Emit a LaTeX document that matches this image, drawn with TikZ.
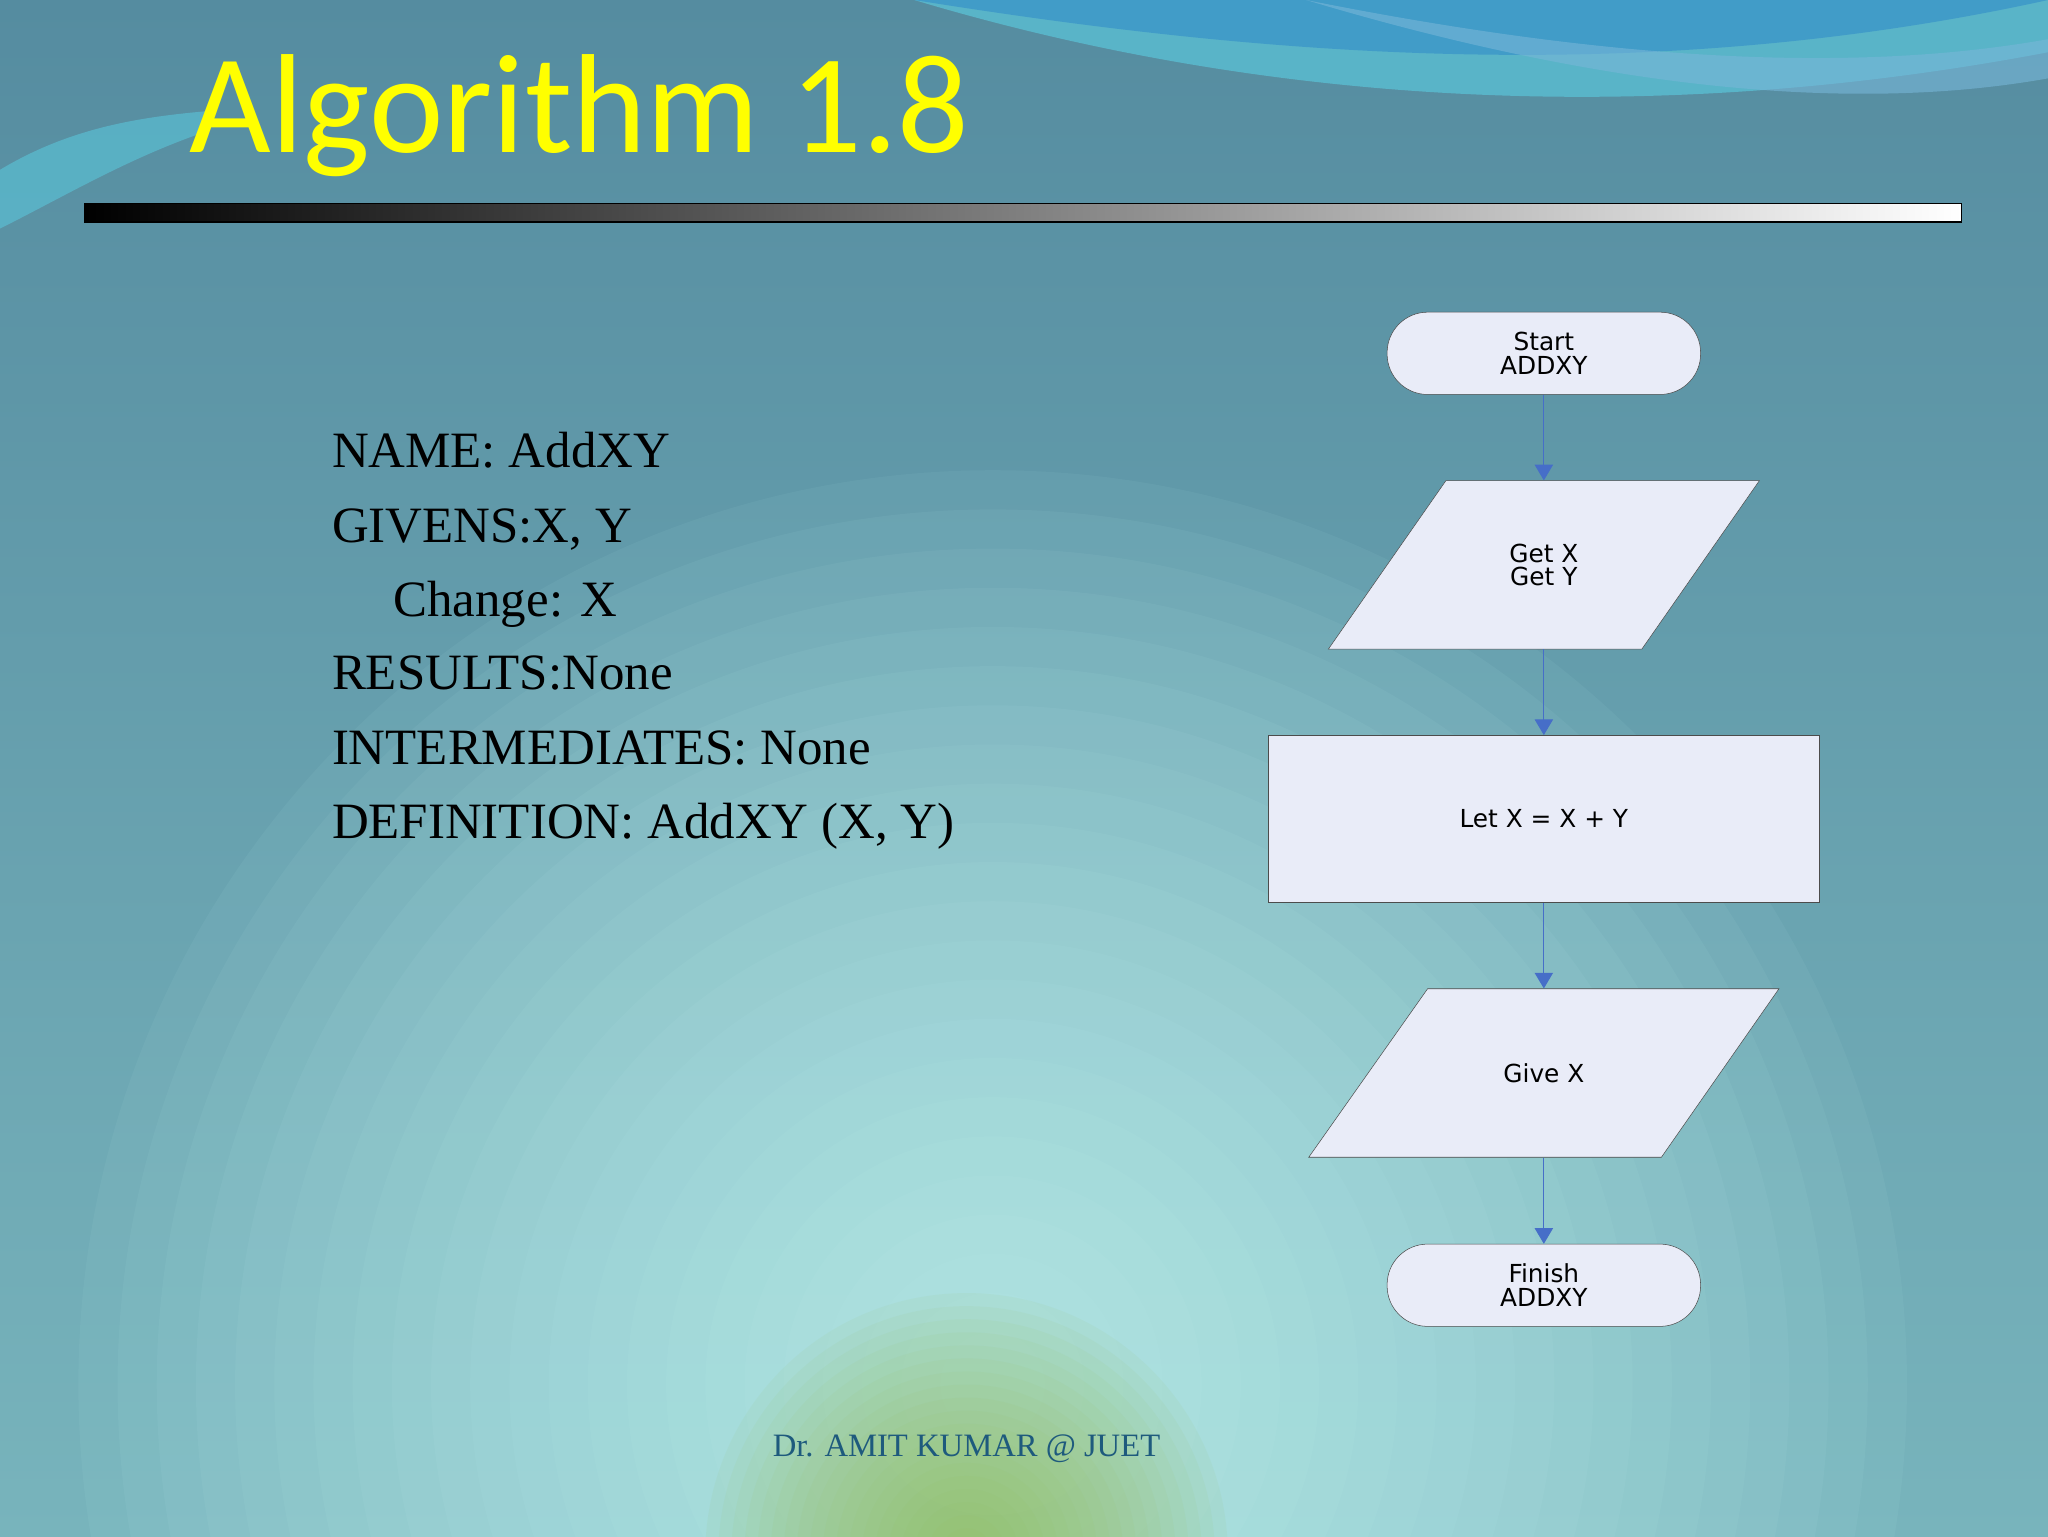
\documentclass[tikz,border=0pt]{standalone}
\usepackage{fontspec}
\setmainfont{Liberation Serif}
\newfontfamily\titlefont{Carlito}
\newfontfamily\arialfont{DejaVu Sans}
\usetikzlibrary{arrows.meta,shapes.geometric}
\definecolor{bgtop}{RGB}{85,140,160}
\definecolor{bgmid}{RGB}{120,180,188}
\definecolor{glow}{RGB}{205,255,250}
\definecolor{boxfill}{RGB}{233,236,248}
\definecolor{arr}{RGB}{70,110,200}
\definecolor{foot}{RGB}{30,90,125}
\definecolor{ttl}{RGB}{255,255,0}
\definecolor{wave1}{RGB}{60,150,200}
\definecolor{wave2}{RGB}{90,190,210}
\definecolor{grn}{RGB}{150,190,90}
\tikzset{
  term/.style={draw=black!70, fill=boxfill, rounded corners=31pt, minimum width=240pt, minimum height=63pt, inner sep=0pt, align=center, font=\arialfont\fontsize{19}{22}\selectfont},
  procbox/.style={draw=black!70, fill=boxfill, minimum width=422pt, minimum height=128pt, inner sep=0pt, align=center, font=\arialfont\fontsize{19}{22}\selectfont},
  ioanchor/.style={minimum width=150pt, minimum height=129pt, inner sep=0pt, align=center, font=\arialfont\fontsize{19}{22}\selectfont},
  io/.style={draw=black!70, fill=boxfill},
  flow/.style={draw=arr, line width=0.8pt, -{Triangle[width=14pt,length=12pt]}},
  body/.style={anchor=base west, inner sep=0pt, font=\fontsize{39}{44}\selectfont},
}
\begin{document}
\begin{tikzpicture}[x=1pt,y=-1pt]
\useasboundingbox (0,0) rectangle (1568,1176);
% background
\begin{scope}
\clip (0,0) rectangle (1568,1176);
\shade[top color=bgtop, bottom color=bgmid] (0,0) rectangle (1568,1176);
\foreach \r in {700,670,...,40} {
  \fill[glow, opacity=0.055] (760,1060) circle (\r);
}
\foreach \r in {200,190,...,20} {
  \fill[grn, opacity=0.07] (740,1190) circle (\r);
}
% top waves
\fill[wave2, opacity=0.8] (700,0) .. controls (900,60) and (1200,110) .. (1568,40) -- (1568,0) -- cycle;
\fill[wave1, opacity=0.8] (700,0) .. controls (950,40) and (1250,70) .. (1568,0) -- cycle;
\fill[wave1!70!white, opacity=0.6] (1000,0) .. controls (1200,60) and (1400,90) .. (1568,60) -- (1568,30) .. controls (1400,60) and (1200,40) .. (1000,0) -- cycle;
\fill[wave2, opacity=0.7] (0,130) .. controls (50,100) and (100,90) .. (160,85) -- (160,100) .. controls (100,120) and (50,150) .. (0,175) -- cycle;
\end{scope}
% title
\node[anchor=base west, text=ttl, font=\titlefont\fontsize{108}{112}\selectfont, inner sep=0pt] (title) at (145,117) {Algorithm 1.8};
% bar
\shade[left color=black, right color=white, draw=black, line width=1pt] (65,156) rectangle (1502,170);
% body text
\node[body] (t1) at (254,358) {NAME: AddXY};
\node[body] (t2) at (254,415) {GIVENS:X, Y};
\node[body] (t3) at (301,472) {Change: X};
\node[body] (t4) at (254,528) {RESULTS:None};
\node[body] (t5) at (254,585) {INTERMEDIATES: None};
\node[body] (t6) at (254,642) {DEFINITION: AddXY (X, Y)};
% flowchart
\node[term] (s) at (1182,270.5) {Start\\[-4pt]ADDXY};
\draw[io] (1107,368) -- (1347,368) -- (1257,497) -- (1017,497) -- cycle;
\node[ioanchor] (p1) at (1182,432.5) {Get X\\[-4pt]Get Y};
\node[procbox] (r) at (1182,627) {Let X = X + Y};
\draw[io] (1093,757) -- (1362,757) -- (1272,886) -- (1002,886) -- cycle;
\node[ioanchor] (p2) at (1182,821.5) {Give X};
\node[term] (f) at (1182,984) {Finish\\[-4pt]ADDXY};
\draw[flow] (s.south) -- (p1.north);
\draw[flow] (p1.south) -- (r.north);
\draw[flow] (r.south) -- (p2.north);
\draw[flow] (p2.south) -- (f.north);
% footer
\node[text=foot, font=\fontsize{25}{27}\selectfont] (ft) at (740,1109) {Dr. AMIT KUMAR @ JUET};
\end{tikzpicture}
\end{document}
